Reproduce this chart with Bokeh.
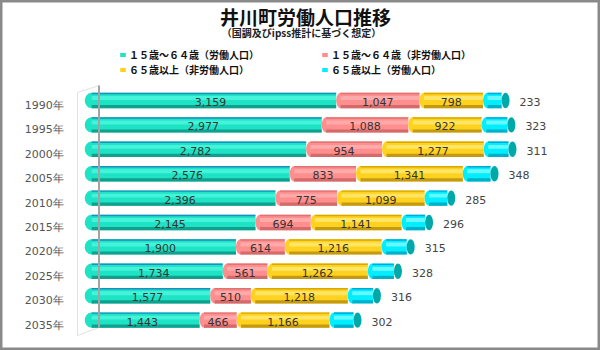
import pandas as pd
from bokeh.plotting import figure
from bokeh.models import (ColumnDataSource, Range1d, Label, Legend,
                          LegendItem, PolyAnnotation, BoxAnnotation)
from bokeh.transform import dodge
from bokeh.core.properties import value
from bokeh.embed import file_html
from bokeh.resources import INLINE

# ---------------- data ----------------
years = ["1990年", "1995年", "2000年", "2005年", "2010年",
         "2015年", "2020年", "2025年", "2030年", "2035年"]
working_15_64 = [3159, 2977, 2782, 2576, 2396, 2145, 1900, 1734, 1577, 1443]
nonworking_15_64 = [1047, 1088, 954, 833, 775, 694, 614, 561, 510, 466]
nonworking_65 = [798, 922, 1277, 1341, 1099, 1141, 1216, 1262, 1218, 1166]
working_65 = [233, 323, 311, 348, 285, 296, 315, 328, 316, 302]
series_names = ["１５歳～６４歳（労働人口）", "１５歳～６４歳（非労働人口）",
                "６５歳以上（非労働人口）", "６５歳以上（労働人口）"]
title_text = "井川町労働人口推移"
subtitle_text = "（国調及びipss推計に基づく想定）"

series = [working_15_64, nonworking_15_64, nonworking_65, working_65]

# colours: base, highlight, top edge, bottom shade
palette = [
    ("#1ee3c4", "#45f3da", "#1b8fc0", "#12a08e"),
    ("#ff8f8f", "#ffaaaa", "#e07272", "#d46a6a"),
    ("#ffd21f", "#ffe565", "#d9a800", "#c49a14"),
    ("#00eeff", "#66f8ff", "#00a8d8", "#00b0c8"),
]
cap_color = "#00a9a9"

df = pd.DataFrame({"year": years})
df["row"] = [-k for k in range(len(years))]   # category index, top to bottom
left = pd.Series([0] * len(years))
for i, vals in enumerate(series):
    v = pd.Series(vals)
    df[f"s{i}_left"] = left
    df[f"s{i}_right"] = left + v
    df[f"s{i}_mid"] = left + v / 2
    df[f"s{i}_lab"] = [f"{x:,}" for x in vals]
    left = left + v
df["total"] = left
src = ColumnDataSource(df)

# ---------------- figure ----------------
PX = 0.0796  # pixels per person
p = figure(width=600, height=350, title=None,
           y_range=Range1d(-10.041, 4.303),
           x_range=Range1d(-84.2 / PX, (600 - 84.2) / PX),
           x_axis_location=None, y_axis_location=None,
           output_backend="svg", toolbar_location=None,
           min_border=0)
p.xgrid.visible = False
p.ygrid.visible = False
p.outline_line_color = "#8a8a8a"
p.outline_line_width = 4
p.background_fill_color = "white"
p.border_fill_color = "white"

# 3D wall
p.add_layout(PolyAnnotation(xs=[77, 98.5, 98.5, 77], ys=[258, 265, 23, 15],
                            xs_units="screen", ys_units="screen",
                            fill_alpha=0, line_color="#a0a0a0", line_width=1))
p.add_layout(BoxAnnotation(left=97.5, right=99.5, top=265, bottom=23,
                           left_units="screen", right_units="screen",
                           top_units="screen", bottom_units="screen",
                           fill_color="#a3a3a3", fill_alpha=1, line_color=None))

# category labels (left)
p.text(x=0, y="row", text="year", x_offset=-21, text_align="right",
       text_baseline="middle", text_font=value("DejaVu Sans"),
       text_font_size="11px", text_color="#555555", source=src)

BAR_OFF = 0.205
BAR_H = 0.631
BAR_PX = 15.4
EDGE = 4.5 / PX      # half-width of segment end ellipse, in data units

body_renderers = []
for i in range(4):
    base, hi, top, shade = palette[i]
    if i == 0:
        p.ellipse(x=dodge(f"s{i}_left", 7 / PX), y=dodge("row", BAR_OFF),
                  width=14, height=BAR_PX, width_units="screen", height_units="screen",
                  fill_color=base, line_color=None, source=src)
    else:
        p.ellipse(x=dodge(f"s{i}_left", EDGE), y=dodge("row", BAR_OFF),
                  width=9, height=BAR_PX, width_units="screen", height_units="screen",
                  fill_color=base, line_color=None, source=src)
    lft = dodge(f"s{i}_left", 7 / PX) if i == 0 else dodge(f"s{i}_left", EDGE)
    r = p.hbar(y=dodge("row", BAR_OFF), left=lft,
               right=f"s{i}_right", height=BAR_H, fill_color=base,
               line_color=None, source=src)
    body_renderers.append(r)
    p.hbar(y=dodge("row", BAR_OFF + 0.10), left=lft,
           right=f"s{i}_right", height=0.16, fill_color=hi, line_color=None,
           source=src)
    p.hbar(y=dodge("row", BAR_OFF + 0.285), left=lft,
           right=f"s{i}_right", height=0.06, fill_color=top, line_color=None,
           source=src)
    p.hbar(y=dodge("row", BAR_OFF - 0.25), left=lft,
           right=f"s{i}_right", height=0.13, fill_color=shade, line_color=None,
           source=src)

# end caps
p.ellipse(x=dodge("total", 4 / PX), y=dodge("row", BAR_OFF),
          width=8, height=BAR_PX, width_units="screen", height_units="screen",
          fill_color=cap_color, line_color=None, source=src)

# inside labels
for i in range(3):
    p.text(x=f"s{i}_mid", y=dodge("row", 0.14), text=f"s{i}_lab",
           text_align="center", text_baseline="middle",
           text_font=value("DejaVu Sans"), text_font_size="11px",
           text_color="#333333", source=src)
# outside labels for last series
p.text(x="total", y=dodge("row", 0.14), text="s3_lab",
       x_offset=18, text_align="left", text_baseline="middle",
       text_font=value("DejaVu Sans"), text_font_size="11px",
       text_color="#444444", source=src)

# legend: two rows
def make_legend(idx, y):
    items = [LegendItem(label=series_names[i], renderers=[body_renderers[i]]) for i in idx]
    return Legend(items=items, orientation="horizontal", location=(119, y),
                  glyph_width=7, glyph_height=5, label_standoff=3,
                  label_width=191, label_height=12, spacing=1,
                  padding=0, margin=0, border_line_color=None,
                  background_fill_alpha=0,
                  label_text_font="Noto Sans CJK JP", label_text_font_size="10px",
                  label_text_font_style="bold", label_text_color="#111111")

p.add_layout(make_legend([0, 1], 288.5))
p.add_layout(make_legend([2, 3], 273))

# titles
p.add_layout(Label(x=305, y=334, x_units="screen", y_units="screen", text=title_text,
                   text_align="center", text_baseline="middle",
                   text_font="Noto Sans CJK JP", text_font_size="19px",
                   text_font_style="bold", text_color="#111111"))
p.add_layout(Label(x=301, y=318, x_units="screen", y_units="screen", text=subtitle_text,
                   text_align="center", text_baseline="middle",
                   text_font="Noto Sans CJK JP", text_font_size="10px",
                   text_font_style="bold", text_color="#222222"))

open("out.html", "w").write(file_html(p, INLINE))
